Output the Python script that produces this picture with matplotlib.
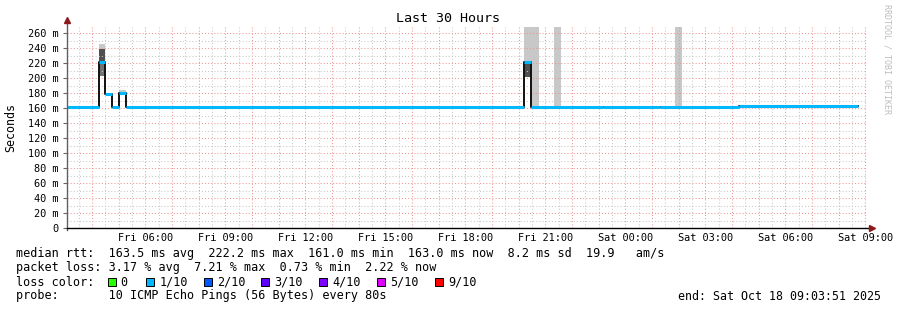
import matplotlib
matplotlib.use("Agg")
import matplotlib.pyplot as plt
from matplotlib.patches import Rectangle
import numpy as np

# time in hours since Fri 00:00, rtt in ms
med_edges = [3.0, 4.26, 4.49, 4.75, 5.01, 5.28, 20.22, 20.47, 23.17, 25.30, 28.26, 32.73]
med_vals = [162, 222, 179, 162, 180, 162, 222, 162, 161, 162, 163]

# smoke (ping spread) per interval
light_start = [4.26, 5.01, 20.22, 20.47, 21.33, 25.86]
light_end = [4.49, 5.28, 20.47, 20.76, 21.60, 26.13]
light_lo = [239, 180, 222, 162, 162, 162]
light_hi = [245, 184, 268, 268, 268, 268]

dark_start = [4.26, 20.22]
dark_end = [4.49, 20.47]
dark_lo = [222, 202]
dark_hi = [239, 222]

mid_start = [4.26]
mid_end = [4.49]
mid_lo = [203]
mid_hi = [222]

xtick_pos = [6, 9, 12, 15, 18, 21, 24, 27, 30, 33]
xtick_labels = ["Fri 06:00", "Fri 09:00", "Fri 12:00", "Fri 15:00", "Fri 18:00",
                "Fri 21:00", "Sat 00:00", "Sat 03:00", "Sat 06:00", "Sat 09:00"]
ytick_pos = list(range(0, 261, 20))

loss_labels = ["0", "1/10", "2/10", "3/10", "4/10", "5/10", "9/10"]
loss_colors = ["#26ff00", "#00b8ff", "#0059ff", "#5e00ff", "#7e00ff", "#dd00ff", "#ff0000"]

stats_line = "median rtt:  163.5 ms avg  222.2 ms max  161.0 ms min  163.0 ms now  8.2 ms sd  19.9   am/s"
loss_line = "packet loss: 3.17 % avg  7.21 % max  0.73 % min  2.22 % now"
probe_line = "probe:       10 ICMP Echo Pings (56 Bytes) every 80s"
end_line = "end: Sat Oct 18 09:03:51 2025"

W, H = 897, 310
plt.rcParams['font.family'] = ['DejaVu Sans Mono']
fig = plt.figure(figsize=(W / 100, H / 100), dpi=100)
fig.patch.set_facecolor("white")

def fx(px):
    return px / W

def fy(py):
    return 1 - py / H

ax = fig.add_axes([fx(67), fy(228), fx(867) - fx(67), fy(27) - fy(228)])
x0, x1 = 3.064, 33.064
ax.set_xlim(x0, x1)
ax.set_ylim(0, 268)

# smoke areas
def bars(starts, ends, lo, hi, color):
    s = np.array(starts)
    e = np.array(ends)
    ax.bar(s, np.array(hi) - np.array(lo), width=e - s, bottom=lo, align="edge",
           color=color, linewidth=0, zorder=1)

bars(light_start, light_end, light_lo, light_hi, "#c8c8c8")
bars(dark_start, dark_end, dark_lo, dark_hi, "#505050")
bars(mid_start, mid_end, mid_lo, mid_hi, "#727272")

# grid
for h in np.arange(3.5, 33.01, 0.5):
    c = "#f09595" if h == int(h) else "#c8c8c8"
    ax.axvline(h, color=c, lw=0.75, ls=(0, (1, 2)), zorder=2)
for v in range(10, 268, 10):
    c = "#f09595" if v % 20 == 0 else "#c8c8c8"
    ax.axhline(v, color=c, lw=0.75, ls=(0, (1, 2)), zorder=2)

# median line: black steps, then loss colored horizontals
ax.plot(med_edges, med_vals + [med_vals[-1]], drawstyle="steps-post", color="#111111",
        lw=1.4, zorder=3)
ax.hlines(med_vals, med_edges[:-1], med_edges[1:], color="#00b8ff", lw=2.2, zorder=4)

for s in ax.spines.values():
    s.set_visible(False)

ax.set_xticks(xtick_pos)
ax.set_xticklabels(xtick_labels)
ax.set_yticks(ytick_pos)
ax.set_yticklabels(["0" if v == 0 else f"{v} m" for v in ytick_pos])
ax.tick_params(axis="x", length=0, pad=3.5, labelsize=7.4)
ax.tick_params(axis="y", length=3, width=0.8, color="#666666", pad=3, labelsize=7.4)

# axes lines with arrows
ax.plot([0, 0], [-0.01, 1.03], transform=ax.transAxes, color="#606060", lw=1,
        clip_on=False, zorder=5)
ax.plot([0, 1.002], [0, 0], transform=ax.transAxes, color="black", lw=1,
        clip_on=False, zorder=5)
ax.plot([0], [1.035], transform=ax.transAxes, marker="^", ms=4.5, color="#8b1a1a",
        clip_on=False, zorder=6)
ax.plot([1.006], [0], transform=ax.transAxes, marker=">", ms=4.5, color="#8b1a1a",
        clip_on=False, zorder=6)

fig.text(fx(448), fy(19), "Last 30 Hours", ha="center", va="center", fontsize=9.6)
fig.text(fx(11), fy(127), "Seconds", rotation=90, ha="center", va="center", fontsize=8.4)
fig.text(fx(887), fy(4), "RRDTOOL / TOBI OETIKER", rotation=270, ha="center", va="top",
         fontsize=6, color="#bdbdbd")

fs = 8.5
fig.text(fx(16), fy(254), stats_line, va="center", fontsize=fs)
fig.text(fx(16), fy(268), loss_line, va="center", fontsize=fs)
fig.text(fx(16), fy(282), "loss color:", va="center", fontsize=fs)
box_x = [108, 146, 203.5, 261, 319, 377, 435]
for i, (bx, lab, col) in enumerate(zip(box_x, loss_labels, loss_colors)):
    fig.patches.append(Rectangle((fx(bx), fy(286)), fx(8), 8 / H, facecolor=col,
                                 edgecolor="black", lw=0.7, transform=fig.transFigure))
    off = 12 if i == 0 else 13.5
    fig.text(fx(bx + off), fy(282), lab, va="center", fontsize=fs)
fig.text(fx(16), fy(296), probe_line, va="center", fontsize=fs)
fig.text(fx(677.5), fy(296), end_line, va="center", ha="left", fontsize=8.35)

fig.savefig("out.png", dpi=100, facecolor="white")
